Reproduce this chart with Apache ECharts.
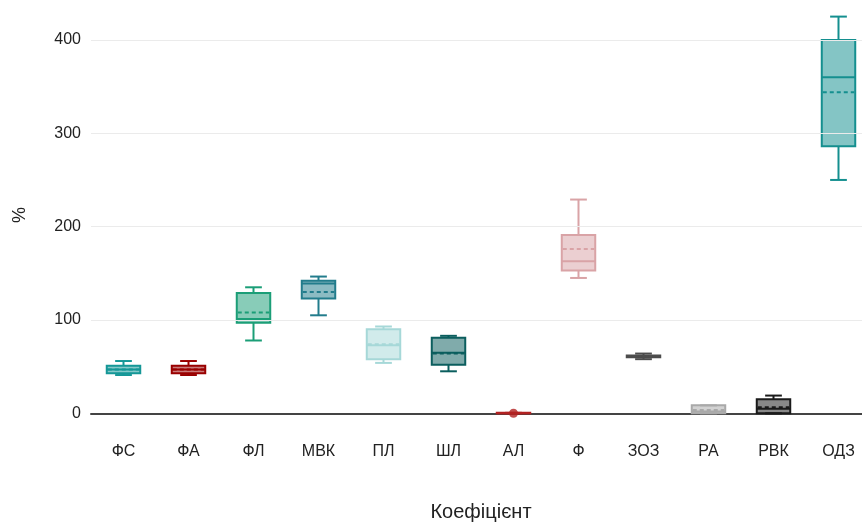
<!DOCTYPE html>
<html>
<head>
<meta charset="utf-8">
<script src="https://cdn.jsdelivr.net/npm/echarts@6/dist/echarts.min.js"></script>
<style>
  html, body { margin: 0; padding: 0; background: #fff; }
  #chart { width: 862px; height: 522px; }
</style>
</head>
<body>
<div id="chart"></div>
<script>
// Coefficient categories
const categories = ['ФС', 'ФА', 'ФЛ', 'МВК', 'ПЛ', 'ШЛ', 'АЛ', 'Ф', 'ЗОЗ', 'РА', 'РВК', 'ОДЗ'];

// Five-number summaries (%) and means
const minVals    = [41, 41, 78, 105, 54, 45, 0, 145, 58, 0, 0, 250];
const q1Vals     = [43, 43, 97, 123, 58, 52, 0, 153, 60, 0, 0, 286];
const medianVals = [47, 47, 101, 139, 73, 65, 0, 163, 61, 2, 5, 360];
const q3Vals     = [51, 51, 129, 142, 90, 81, 0.5, 191, 62, 8.5, 15, 400];
const maxVals    = [56, 56, 135, 146.5, 93, 83, 0.5, 229, 64, 8.5, 19, 425];
const meanVals   = [47, 47, 108, 130, 74, 64, 0.3, 176, 61, 3.5, 6.5, 344];

// Single observed point shown for АЛ
const pointCats = ['АЛ'];
const pointVals = [0];

// Y-axis gridline values
const yTicks = [100, 200, 300, 400];

// Stroke colours per category
const strokeColors = ['#159797', '#990000', '#1b9e77', '#227c8c', '#a6d8d8', '#0b5e5e',
                      '#b22222', '#d9a3a6', '#4d4d4d', '#a9a9a9', '#1a1a1a', '#148f8f'];

function fillOf(hex, a) {
  const n = parseInt(hex.slice(1), 16);
  return 'rgba(' + (n >> 16) + ',' + ((n >> 8) & 255) + ',' + (n & 255) + ',' + a + ')';
}

const boxData = categories.map((c, i) => [i, minVals[i], q1Vals[i], medianVals[i], q3Vals[i], maxVals[i], meanVals[i]]);

function renderBox(params, api) {
  const i = api.value(0);
  const color = strokeColors[i];
  const fill = fillOf(color, 0.52);
  const bandW = api.size([1, 0])[0];
  const bw = bandW * 0.515;
  const cw = bw * 0.5;
  const p = k => api.coord([i, api.value(k)]);
  const pMin = p(1), pQ1 = p(2), pMed = p(3), pQ3 = p(4), pMax = p(5), pMean = p(6);
  const cx = pMin[0];
  const stroke = { stroke: color, lineWidth: 2, fill: null };
  const children = [
    { type: 'line', shape: { x1: cx, y1: pMin[1], x2: cx, y2: pQ1[1] }, style: stroke },
    { type: 'line', shape: { x1: cx, y1: pQ3[1], x2: cx, y2: pMax[1] }, style: stroke },
    { type: 'line', shape: { x1: cx - cw / 2, y1: pMin[1], x2: cx + cw / 2, y2: pMin[1] }, style: stroke },
    { type: 'line', shape: { x1: cx - cw / 2, y1: pMax[1], x2: cx + cw / 2, y2: pMax[1] }, style: stroke },
    { type: 'rect', shape: { x: cx - bw / 2, y: pQ3[1], width: bw, height: Math.max(pQ1[1] - pQ3[1], 0) },
      style: { fill: fill, stroke: color, lineWidth: 2 } },
    { type: 'line', shape: { x1: cx - bw / 2, y1: pMed[1], x2: cx + bw / 2, y2: pMed[1] }, style: stroke },
    { type: 'line', shape: { x1: cx - bw / 2 + 1, y1: pMean[1], x2: cx + bw / 2 - 1, y2: pMean[1] },
      style: { stroke: color, lineWidth: 2, lineDash: [4, 3], fill: null } }
  ];
  return { type: 'group', children: children };
}

const chart = echarts.init(document.getElementById('chart'), null, { renderer: 'canvas' });
chart.setOption({
  animation: false,
  backgroundColor: '#fff',
  textStyle: { fontFamily: 'Liberation Sans, Arial, sans-serif' },
  grid: { left: 91, right: -9, top: 2.6, bottom: 108.7, containLabel: false, outerBoundsMode: 'none' },
  xAxis: {
    type: 'category',
    data: categories,
    boundaryGap: true,
    axisLine: { show: true, lineStyle: { color: '#444', width: 2 } },
    axisTick: { show: false },
    axisLabel: { color: '#222', fontSize: 16, margin: 30, interval: 0 },
    splitLine: { show: false },
    name: 'Коефіцієнт',
    nameLocation: 'middle',
    nameGap: 89,
    nameTextStyle: { color: '#222', fontSize: 20 }
  },
  yAxis: {
    type: 'value',
    min: 0,
    max: 440,
    interval: 100,
    axisLine: { show: false },
    axisTick: { show: false },
    splitLine: { show: false },
    axisLabel: {
      color: '#222', fontSize: 16, margin: 10,
      formatter: v => (v % 100 === 0 ? String(v) : '')
    },
    name: '%',
    nameLocation: 'middle',
    nameGap: 62,
    nameRotate: 90,
    nameTextStyle: { color: '#222', fontSize: 18, padding: [0, 14, 0, 0] }
  },
  series: [
    {
      type: 'line',
      data: [],
      z: 1,
      silent: true,
      markLine: {
        silent: true,
        symbol: 'none',
        label: { show: false },
        lineStyle: { color: '#ebebeb', width: 1, type: 'solid' },
        data: yTicks.map(v => ({ yAxis: v }))
      }
    },
    {
      type: 'custom',
      renderItem: renderBox,
      data: boxData,
      encode: { x: 0, y: [1, 2, 3, 4, 5, 6] },
      z: 3,
      clip: false
    },
    {
      type: 'scatter',
      data: pointCats.map((c, k) => [c, pointVals[k]]),
      symbol: 'circle',
      symbolSize: 9,
      itemStyle: { color: '#b22222' },
      z: 4
    }
  ]
});
</script>
</body>
</html>
